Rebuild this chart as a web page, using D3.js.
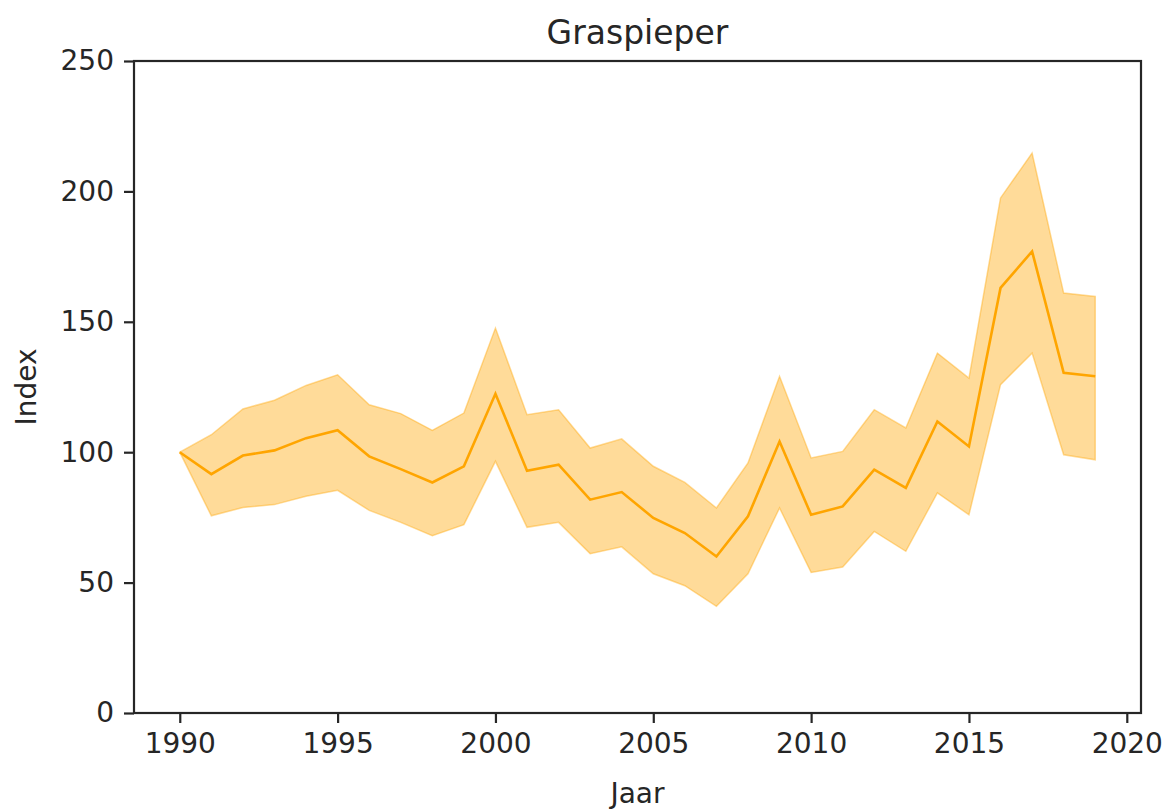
<!DOCTYPE html>
<html>
<head>
<meta charset="utf-8">
<script src="https://cdn.jsdelivr.net/npm/d3@7"></script>
<style>
  body { margin: 0; background: #fff; }
  svg text { font-family: "DejaVu Sans", sans-serif; fill: #262626; }
  .axis path, .axis line { stroke: #262626; }
</style>
</head>
<body>
<svg id="chart" width="1164" height="809"></svg>
<script>
const jaren = d3.range(1990, 2020);
const index = [100, 91.6, 98.7, 100.7, 105.4, 108.4, 98.4, 93.5, 88.4, 94.6,
               122.4, 92.9, 95.2, 81.8, 84.7, 74.8, 69.0, 60.0, 75.4, 104.1,
               76.0, 79.2, 93.3, 86.3, 111.8, 102.2, 163.0, 177.0, 130.4, 129.1];
const boven = [100, 106.7, 116.6, 119.9, 125.6, 129.7, 118.2, 114.8, 108.4, 115.0,
               147.6, 114.4, 116.3, 101.6, 105.1, 94.6, 88.4, 78.6, 95.9, 129.1,
               97.8, 100.3, 116.3, 109.3, 138.0, 128.4, 197.5, 214.7, 161.0, 159.7];
const onder = [100, 75.6, 78.8, 79.9, 83.1, 85.4, 77.7, 73.1, 68.0, 72.2,
               96.5, 71.2, 73.1, 61.1, 63.7, 53.4, 48.8, 40.9, 53.4, 78.6,
               53.9, 56.0, 69.6, 62.0, 84.4, 76.0, 125.9, 138.0, 99.0, 97.1];
const xTicks = [1990, 1995, 2000, 2005, 2010, 2015, 2020];
const yTicks = [0, 50, 100, 150, 200, 250];

const dados = jaren.map((j, i) => ({ jaar: j, v: index[i], hi: boven[i], lo: onder[i] }));

const svg = d3.select('#chart');
const margin = { top: 61, bottom: 96, left: 134, right: 23 };
const width = 1164 - margin.left - margin.right;
const height = 809 - margin.top - margin.bottom;

const chart = svg.append('g')
    .attr('transform', `translate(${margin.left}, ${margin.top})`);

// matplotlib-style 5% marge
const xScale = d3.scaleLinear()
    .domain([1990 - 1.45, 2019 + 1.45])
    .range([0, width]);

const yScale = d3.scaleLinear()
    .domain([0, 250])
    .range([height, 0]);

/*band*/
chart.append('path')
    .datum(dados)
    .attr('fill', 'rgba(255,165,0,0.4)')
    .attr('stroke', 'rgba(255,165,0,0.4)')
    .attr('stroke-width', 1.5)
    .attr('d', d3.area()
        .x(d => xScale(d.jaar))
        .y0(d => yScale(d.lo))
        .y1(d => yScale(d.hi)));

/*lijn*/
chart.append('path')
    .datum(dados)
    .attr('fill', 'none')
    .attr('stroke', '#ffa500')
    .attr('stroke-width', 2.6)
    .attr('d', d3.line()
        .x(d => xScale(d.jaar))
        .y(d => yScale(d.v)));

/*assen*/
const xAxis = chart.append('g')
    .attr('class', 'axis')
    .attr('transform', `translate(0, ${height})`)
    .call(d3.axisBottom(xScale).tickValues(xTicks).tickFormat(d3.format('d'))
        .tickSize(10).tickPadding(10));

const yAxis = chart.append('g')
    .attr('class', 'axis')
    .call(d3.axisLeft(yScale).tickValues(yTicks).tickSize(10).tickPadding(10));

[xAxis, yAxis].forEach(a => {
    a.select('.domain').remove();
    a.selectAll('line').attr('stroke-width', 2.2);
    a.selectAll('text').style('font-size', '28px').attr('fill', '#262626');
});

/*frame*/
chart.append('rect')
    .attr('width', width)
    .attr('height', height)
    .attr('fill', 'none')
    .attr('stroke', '#262626')
    .attr('stroke-width', 2.2);

/*titels*/
svg.append('text')
    .attr('x', margin.left + width / 2)
    .attr('y', 44)
    .attr('text-anchor', 'middle')
    .style('font-size', '33px')
    .text('Graspieper');

svg.append('text')
    .attr('x', margin.left + width / 2)
    .attr('y', 803)
    .attr('text-anchor', 'middle')
    .style('font-size', '28px')
    .text('Jaar');

svg.append('text')
    .attr('transform', `translate(36, ${margin.top + height / 2}) rotate(-90)`)
    .attr('text-anchor', 'middle')
    .style('font-size', '28px')
    .text('Index');
</script>
</body>
</html>
